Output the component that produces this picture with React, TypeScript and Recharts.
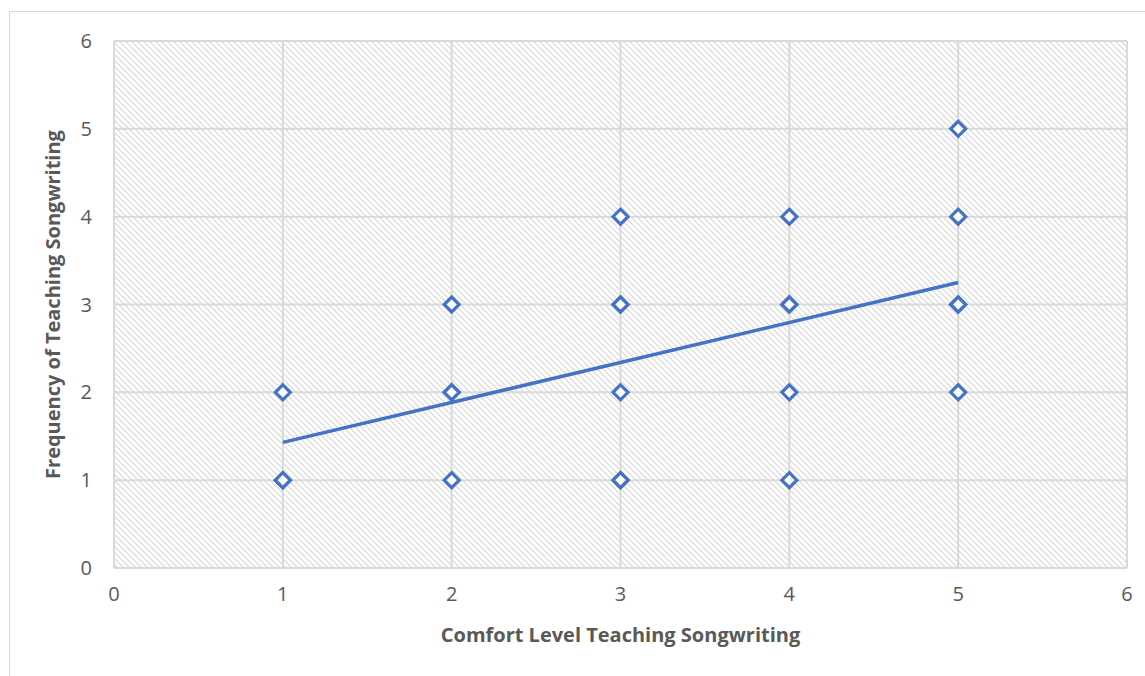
import { ScatterChart, Scatter, XAxis, YAxis, CartesianGrid, Label } from "recharts";

// survey responses: comfort level (x) vs frequency (y); repeated pairs overlap
const comfortLevels = [1, 1, 1, 2, 2, 2, 2, 3, 3, 3, 3, 3, 3, 4, 4, 4, 4, 4, 5, 5, 5, 5, 5];
const frequencies = [1, 1, 2, 1, 2, 2, 3, 1, 1, 2, 3, 3, 4, 1, 2, 3, 3, 4, 2, 3, 3, 4, 5];

// linear trend line end points
const trendX = [1, 5];
const trendY = [1.43, 3.25];

const axisTicks = [0, 1, 2, 3, 4, 5, 6];

const points = comfortLevels.map((x, i) => ({ x, y: frequencies[i] }));
const trend = trendX.map((x, i) => ({ x, y: trendY[i] }));

const BLUE = "#4472C4";
const TEXT = "#595959";
const GRID = "#D9D9D9";
const FONT = "'Open Sans', sans-serif";

function Diamond(props: any) {
  const { cx, cy } = props;
  const r = 7.5;
  return (
    <polygon
      points={`${cx},${cy - r} ${cx + r},${cy} ${cx},${cy + r} ${cx - r},${cy}`}
      fill="#fff"
      stroke={BLUE}
      strokeWidth={3.2}
    />
  );
}

function NoShape() {
  return <g />;
}

export default function App() {
  return (
    <div style={{ position: "absolute", left: 0, top: 0, width: 1145, height: 676, background: "#fff" }}>
      <div
        style={{
          position: "absolute",
          left: 9,
          top: 11,
          width: 1200,
          height: 700,
          borderLeft: `1.5px solid ${GRID}`,
          borderTop: `1.5px solid ${GRID}`,
        }}
      />
      <ScatterChart
        width={1145}
        height={676}
        margin={{ top: 41, right: 18, bottom: 28, left: 8 }}
        style={{ position: "absolute", left: 0, top: 0, fontFamily: FONT }}
      >
        <defs>
          <pattern id="hatch" width="6" height="6" patternUnits="userSpaceOnUse">
            <path d="M0,0 L6,6 M-1,5 L1,7 M5,-1 L7,1" stroke="#DCDCDC" strokeWidth={1.3} />
          </pattern>
        </defs>
        <CartesianGrid fill="url(#hatch)" fillOpacity={1} stroke={GRID} strokeWidth={2} />
        <XAxis
          type="number"
          dataKey="x"
          domain={[0, 6]}
          ticks={axisTicks}
          axisLine={false}
          tickLine={false}
          tickSize={0}
          tickMargin={19}
          height={80}
          tick={{ fill: TEXT, fontSize: 20, fontFamily: FONT }}
        >
          <Label
            value="Comfort Level Teaching Songwriting"
            position="insideBottom"
            offset={6}
            style={{ fill: TEXT, fontSize: 20, fontWeight: 700, fontFamily: FONT }}
          />
        </XAxis>
        <YAxis
          type="number"
          dataKey="y"
          domain={[0, 6]}
          ticks={axisTicks}
          axisLine={false}
          tickLine={false}
          tickSize={0}
          tickMargin={22}
          width={106}
          tick={{ fill: TEXT, fontSize: 20, fontFamily: FONT }}
        >
          <Label
            value="Frequency of Teaching Songwriting"
            angle={-90}
            position="center"
            dx={-8}
            style={{ fill: TEXT, fontSize: 20, fontWeight: 700, fontFamily: FONT, textAnchor: "middle" }}
          />
        </YAxis>
        <Scatter data={trend} line={{ stroke: BLUE, strokeWidth: 3.5 }} shape={NoShape} isAnimationActive={false} />
        <Scatter data={points} shape={Diamond} isAnimationActive={false} />
      </ScatterChart>
    </div>
  );
}
